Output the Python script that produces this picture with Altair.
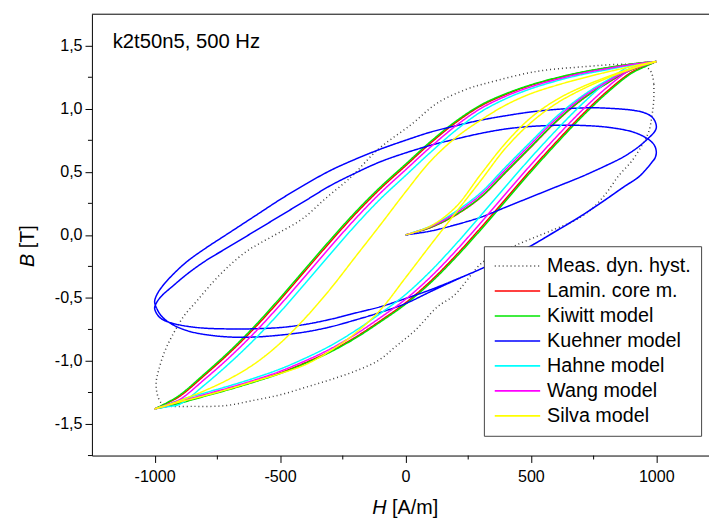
import altair as alt
import pandas as pd

FONT = "Liberation Sans"

SERIES = ["Meas. dyn. hyst.", "Lamin. core m.", "Kiwitt model", "Kuehner model",
          "Hahne model", "Wang model", "Silva model"]
COLORS = ["#3c3c3c", "#ff0000", "#00e600", "#0000ff", "#00ffff", "#ff00ff", "#ffff00"]
DASHES = [[1, 3], [1, 0], [1, 0], [1, 0], [1, 0], [1, 0], [1, 0]]

X_TICKS = [-1000, -500, 0, 500, 1000]
X_MINOR = [-750, -250, 250, 750]
Y_TICKS = [-1.5, -1.0, -0.5, 0.0, 0.5, 1.0, 1.5]
Y_MINOR = [-1.75, -1.25, -0.75, -0.25, 0.25, 0.75, 1.25]

# ---- measured dynamic hysteresis (closed loop) ----
meas_H = [990, 980, 960, 916, 850, 719, 522, 325, 250, 128, 24, -108, -206, -239, -318,
          -409, -502, -580, -633, -698, -764, -830, -882, -930, -961, -985, -994, -990,
          -975, -950, -850, -718, -600, -502, -400, -305, -200, -107, -42, 37, 128, 194,
          312, 437, 595, 680, 745, 800, 850, 900, 942, 970, 983, 990, 990]
meas_B = [1.20, 1.29, 1.33, 1.348, 1.352, 1.335, 1.296, 1.204, 1.16, 1.047, 0.877, 0.68,
          0.48, 0.42, 0.29, 0.13, 0.02, -0.066, -0.13, -0.236, -0.367, -0.52, -0.64,
          -0.80, -0.93, -1.08, -1.17, -1.26, -1.33, -1.355, -1.36, -1.354, -1.31, -1.27,
          -1.21, -1.152, -1.08, -0.995, -0.89, -0.76, -0.57, -0.48, -0.21, -0.085, 0.045,
          0.12, 0.21, 0.33, 0.47, 0.58, 0.707, 0.82, 0.95, 1.08, 1.20]

# ---- H grids of the model branches ----
H_INIT = [0, 100, 200, 300, 400, 500, 600, 700, 800, 900, 1000]
H_DESC = [1000, 950, 900, 800, 700, 600, 500, 400, 300, 200, 100, 0, -100, -200, -300,
          -400, -500, -600, -700, -800, -900, -950, -1000]
H_ASC = [-1000, -950, -900, -800, -700, -600, -500, -400, -300, -200, -100, 0, 100, 200,
         300, 400, 500, 600, 700, 800, 900, 950, 1000]

lamin_init_B = [0, 0.058, 0.157, 0.297, 0.496, 0.696, 0.896, 1.067, 1.198, 1.309, 1.375]
lamin_desc_B = [1.375, 1.366, 1.353, 1.323, 1.287, 1.241, 1.186, 1.114, 1.022, 0.89, 0.728,
                0.547, 0.366, 0.165, -0.056, -0.286, -0.516, -0.735, -0.933, -1.112,
                -1.28, -1.334, -1.38]
lamin_asc_B = [-1.38, -1.359, -1.331, -1.276, -1.221, -1.161, -1.095, -1.014, -0.923,
               -0.812, -0.681, -0.539, -0.367, -0.165, 0.056, 0.286, 0.516, 0.735, 0.944,
               1.132, 1.289, 1.334, 1.375]

kiwitt_init_B = [0, 0.06, 0.16, 0.30, 0.50, 0.70, 0.90, 1.07, 1.20, 1.31, 1.375]
kiwitt_desc_B = [1.375, 1.367, 1.355, 1.325, 1.29, 1.245, 1.19, 1.12, 1.03, 0.90, 0.74,
                 0.56, 0.38, 0.18, -0.04, -0.27, -0.50, -0.72, -0.92, -1.10, -1.27,
                 -1.33, -1.38]
kiwitt_asc_B = [-1.38, -1.36, -1.335, -1.28, -1.225, -1.165, -1.10, -1.02, -0.93, -0.82,
                -0.69, -0.55, -0.38, -0.18, 0.04, 0.27, 0.50, 0.72, 0.93, 1.12, 1.28,
                1.33, 1.375]

hahne_init_B = [0, 0.07, 0.185, 0.335, 0.54, 0.74, 0.935, 1.095, 1.222, 1.323, 1.375]
hahne_desc_B = [1.375, 1.361, 1.347, 1.308, 1.27, 1.22, 1.159, 1.08, 0.975, 0.828, 0.655,
                0.47, 0.285, 0.075, -0.153, -0.385, -0.613, -0.825, -1.015, -1.188,
                -1.343, -1.363, -1.38]
hahne_asc_B = [-1.38, -1.346, -1.31, -1.253, -1.196, -1.134, -1.064, -0.978, -0.88, -0.76,
               -0.623, -0.473, -0.288, -0.075, 0.153, 0.385, 0.613, 0.828, 1.03, 1.208,
               1.345, 1.358, 1.375]

wang_init_B = [0, 0.065, 0.172, 0.318, 0.52, 0.72, 0.918, 1.083, 1.21, 1.317, 1.375]
wang_desc_B = [1.375, 1.364, 1.351, 1.317, 1.28, 1.232, 1.174, 1.10, 1.002, 0.864, 0.697,
               0.515, 0.332, 0.127, -0.096, -0.328, -0.556, -0.772, -0.968, -1.144,
               -1.306, -1.346, -1.38]
wang_asc_B = [-1.38, -1.353, -1.322, -1.266, -1.21, -1.15, -1.082, -0.999, -0.905, -0.79,
              -0.656, -0.511, -0.334, -0.128, 0.096, 0.328, 0.556, 0.774, 0.98, 1.164,
              1.313, 1.344, 1.375]

silva_init_B = [0, 0.07, 0.22, 0.48, 0.73, 0.93, 1.07, 1.17, 1.25, 1.32, 1.375]
silva_desc_B = [1.375, 1.356, 1.335, 1.29, 1.24, 1.185, 1.12, 1.03, 0.91, 0.77, 0.585,
                0.34, 0.08, -0.175, -0.43, -0.66, -0.86, -1.02, -1.14, -1.235, -1.315,
                -1.35, -1.38]
silva_asc_B = [-1.38, -1.352, -1.325, -1.275, -1.22, -1.16, -1.10, -1.03, -0.92, -0.78,
               -0.595, -0.34, -0.08, 0.175, 0.43, 0.69, 0.89, 1.04, 1.15, 1.24, 1.315,
               1.35, 1.375]

# ---- Kuehner model: initial curve + two transient cycles (one path) ----
kuehner_H = [0, 100, 200, 300, 400, 500, 600, 700, 800, 870, 930, 970, 990, 1000,
             995, 980, 950, 900, 800, 730, 600, 500, 400, 300, 200, 100, 0, -100, -200,
             -300, -400, -500, -600, -700, -800, -870, -930, -970, -990, -1000,
             -990, -970, -930, -870, -800, -700, -600, -500, -400, -300, -200, -100, 0,
             100, 200, 312, 400, 483, 600, 700, 785, 870, 930, 955, 980, 995, 1000,
             995, 980, 950, 900, 800, 700, 627, 500, 400, 300, 200, 100, 0, -100, -200,
             -300, -400, -500, -600, -700, -800, -870, -930, -970, -990, -1000,
             -990, -970, -930, -870, -800, -700, -633, -500, -400, -300, -200, -100, 0,
             100, 200, 312, 400, 483, 600, 700, 785, 870, 930, 955, 980, 995, 1000]
kuehner_B = [0, 0.03, 0.08, 0.14, 0.22, 0.30, 0.38, 0.46, 0.55, 0.62, 0.70, 0.77, 0.81, 0.85,
             0.90, 0.94, 0.97, 0.99, 1.005, 1.008, 0.995, 0.975, 0.945, 0.91, 0.865, 0.815,
             0.75, 0.68, 0.60, 0.51, 0.40, 0.28, 0.15, 0.02, -0.11, -0.21, -0.32, -0.41,
             -0.47, -0.53,
             -0.59, -0.65, -0.71, -0.76, -0.79, -0.81, -0.81, -0.795, -0.77, -0.73, -0.675,
             -0.615, -0.545, -0.45, -0.358, -0.26, -0.18, -0.105, 0.03, 0.15, 0.262, 0.38,
             0.46, 0.51, 0.57, 0.61, 0.65,
             0.70, 0.74, 0.78, 0.82, 0.855, 0.868, 0.87, 0.86, 0.84, 0.805, 0.76, 0.71,
             0.65, 0.58, 0.49, 0.39, 0.27, 0.15, 0.03, -0.09, -0.21, -0.31, -0.41, -0.48,
             -0.53, -0.58,
             -0.63, -0.67, -0.70, -0.725, -0.74, -0.746, -0.746, -0.735, -0.71, -0.67,
             -0.62, -0.57, -0.505, -0.435, -0.355, -0.26, -0.18, -0.105, 0.03, 0.15, 0.262,
             0.38, 0.46, 0.51, 0.57, 0.61, 0.65]

rows = []


def add_path(name, branch, hs, bs):
    for h, b in zip(hs, bs):
        rows.append({"series": name, "branch": f"{name}|{branch}", "H": h, "B": b,
                     "idx": len(rows)})


def add_model(name, init_b, desc_b, asc_b):
    add_path(name, "init", H_INIT, init_b)
    add_path(name, "desc", H_DESC, desc_b)
    add_path(name, "asc", H_ASC, asc_b)


add_path(SERIES[0], "loop", meas_H, meas_B)
add_model(SERIES[1], lamin_init_B, lamin_desc_B, lamin_asc_B)
add_model(SERIES[2], kiwitt_init_B, kiwitt_desc_B, kiwitt_asc_B)
add_path(SERIES[3], "loop", kuehner_H, kuehner_B)
add_model(SERIES[4], hahne_init_B, hahne_desc_B, hahne_asc_B)
add_model(SERIES[5], wang_init_B, wang_desc_B, wang_asc_B)
add_model(SERIES[6], silva_init_B, silva_desc_B, silva_asc_B)

df = pd.DataFrame(rows)

W, H = 625, 447
X_DOMAIN = [-1250, 1210]
Y_DOMAIN = [-1.75, 1.75]

xscale = alt.Scale(domain=X_DOMAIN, nice=False, zero=False)
yscale = alt.Scale(domain=Y_DOMAIN, nice=False, zero=False)

x_axis = alt.Axis(values=X_TICKS, tickSize=7, labelFontSize=16.3, labelFont=FONT,
                  labelColor="black", labelPadding=6, domainColor="black",
                  tickColor="black", grid=False, title=None, labelFlush=False,
                  labelExpr="(datum.value < 0 ? '-' : '') + format(abs(datum.value), 'd')")
y_axis = alt.Axis(values=Y_TICKS, tickSize=7, labelFontSize=16.3, labelFont=FONT,
                  labelColor="black", labelPadding=3, domainColor="black",
                  tickColor="black", grid=False, title=None, labelFlush=False,
                  labelExpr="(datum.value < 0 ? '-' : '') + replace(format(abs(datum.value), '.1f'), '.', ',')")

base = alt.Chart(df).mark_line(strokeWidth=1.5, interpolate="catmull-rom").encode(
    x=alt.X("H:Q", scale=xscale, axis=x_axis),
    y=alt.Y("B:Q", scale=yscale, axis=y_axis),
    color=alt.Color("series:N", scale=alt.Scale(domain=SERIES, range=COLORS),
                    legend=alt.Legend(title=None)),
    strokeDash=alt.StrokeDash("series:N", scale=alt.Scale(domain=SERIES, range=DASHES),
                              legend=alt.Legend(title=None)),
    detail="branch:N",
    order=alt.Order("idx:Q"),
)

line_layers = [base.transform_filter(alt.datum.series == s) for s in SERIES]

xminor = alt.Chart(pd.DataFrame({"v": X_MINOR})).mark_rule(color="black", strokeWidth=1).encode(
    x=alt.X("v:Q", scale=xscale), y=alt.value(H), y2=alt.value(H + 4))
yminor = alt.Chart(pd.DataFrame({"v": Y_MINOR})).mark_rule(color="black", strokeWidth=1).encode(
    y=alt.Y("v:Q", scale=yscale), x=alt.value(-4), x2=alt.value(0))
topline = alt.Chart(pd.DataFrame({"v": [0]})).mark_rule(color="black", strokeWidth=1).encode(
    x=alt.value(0), x2=alt.value(W), y=alt.value(0))


def label(txt, x, y, size=20, **kw):
    return alt.Chart(pd.DataFrame({"t": [txt]})).mark_text(
        font=FONT, fontSize=size, color="black", **kw).encode(
        x=alt.value(x), y=alt.value(y), text="t:N")


annot = label("k2t50n5, 500 Hz", 21, 34, size=20.5, align="left", baseline="alphabetic")
ytitle_b = label("B", -65, 256, align="left", baseline="middle", angle=270, fontStyle="italic")
ytitle_u = label("[T]", -65, 237, align="left", baseline="middle", angle=270)
xtitle_h = label("H", 284, 506, align="left", baseline="alphabetic", fontStyle="italic")
xtitle_u = label("[A/m]", 304, 506, align="left", baseline="alphabetic")

chart = alt.layer(
    *line_layers, xminor, yminor, topline, annot, ytitle_b, ytitle_u, xtitle_h, xtitle_u
).properties(
    width=W, height=H,
    autosize=alt.AutoSizeParams(type="none"),
    padding={"left": 85, "top": 3, "right": 0, "bottom": 63},
).configure_view(strokeWidth=0).configure_legend(
    orient="none", legendX=397, legendY=235, padding=10,
    strokeColor="#444444", fillColor="#ffffff", strokeWidth=1,
    symbolType="stroke", symbolSize=2116, symbolStrokeWidth=1.6,
    labelFont=FONT, labelFontSize=20, labelColor="black", labelOffset=6,
    rowPadding=5.3, clipHeight=20, labelLimit=400,
)

chart.save("out.html", embed_options={"renderer": "svg", "actions": False})
